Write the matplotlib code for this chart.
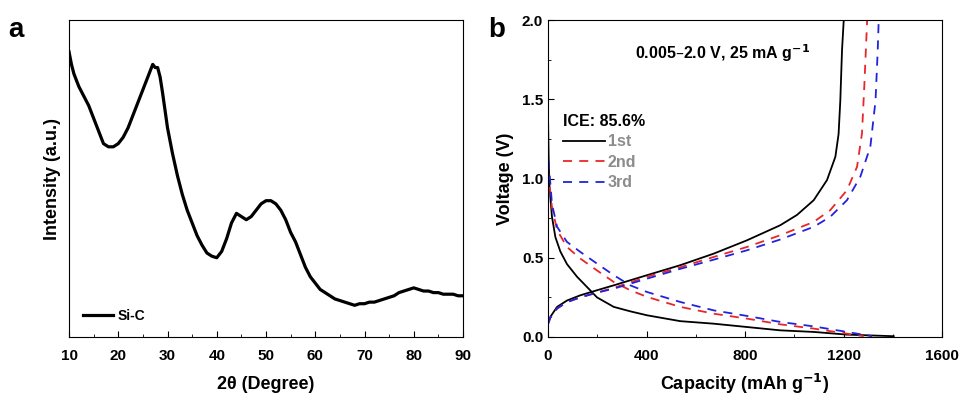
import matplotlib.pyplot as plt
import numpy as np
from matplotlib.ticker import MultipleLocator

plt.rcParams['font.family'] = ['Liberation Sans', 'DejaVu Sans']
plt.rcParams['font.weight'] = 'bold'

# XRD pattern of Si-C (arbitrary units)
two_theta = [10, 10.5, 11, 12, 13, 14, 15, 16, 17, 18, 19, 20, 21, 22, 23, 24, 25, 26,
             26.5, 27, 27.5, 28, 28.5, 29, 30, 31, 32, 33, 34, 35, 36, 37, 38, 39, 40,
             41, 42, 43, 44, 45, 46, 47, 48, 49, 50, 51, 52, 53, 54, 55, 56, 57, 58,
             59, 60, 61, 62, 63, 64, 65, 66, 67, 68, 69, 70, 71, 72, 73, 74, 75, 76,
             77, 78, 79, 80, 81, 82, 83, 84, 85, 86, 87, 88, 89, 90]
intensity = [0.90, 0.86, 0.83, 0.79, 0.76, 0.73, 0.69, 0.65, 0.61, 0.60, 0.60, 0.61,
             0.63, 0.66, 0.70, 0.74, 0.78, 0.82, 0.84, 0.86, 0.85, 0.85, 0.82, 0.77,
             0.66, 0.58, 0.51, 0.45, 0.40, 0.36, 0.32, 0.29, 0.265, 0.255, 0.25, 0.27,
             0.31, 0.36, 0.39, 0.38, 0.37, 0.38, 0.40, 0.42, 0.43, 0.43, 0.42, 0.40,
             0.37, 0.33, 0.30, 0.26, 0.22, 0.19, 0.17, 0.15, 0.14, 0.13, 0.12, 0.115,
             0.11, 0.105, 0.10, 0.105, 0.105, 0.11, 0.11, 0.115, 0.12, 0.125, 0.13,
             0.14, 0.145, 0.15, 0.155, 0.15, 0.145, 0.145, 0.14, 0.14, 0.135, 0.135,
             0.135, 0.13, 0.13]

# Galvanostatic charge/discharge profiles
dis1_cap = [0, 3, 6, 16, 30, 50, 77, 118, 158, 199, 267, 334, 402, 537, 673, 808, 943, 1079, 1214, 1404]
dis1_v = [1.40, 1.10, 0.95, 0.76, 0.63, 0.54, 0.46, 0.38, 0.316, 0.25, 0.19, 0.162, 0.137,
          0.10, 0.084, 0.063, 0.042, 0.032, 0.015, 0.005]
chg1_cap = [0, 9, 37, 77, 131, 199, 267, 402, 537, 673, 808, 943, 1011, 1079, 1133, 1167,
            1180, 1187, 1194, 1201]
chg1_v = [0.09, 0.126, 0.19, 0.23, 0.263, 0.295, 0.326, 0.39, 0.453, 0.526, 0.61, 0.705,
          0.77, 0.863, 0.99, 1.137, 1.28, 1.49, 1.81, 2.0]

dis2_cap = [0, 3, 16, 37, 77, 131, 199, 267, 334, 402, 537, 673, 808, 943, 1079, 1214, 1282]
dis2_v = [1.05, 1.0, 0.82, 0.674, 0.568, 0.495, 0.42, 0.347, 0.295, 0.253, 0.19, 0.147,
          0.116, 0.08, 0.053, 0.021, 0.005]
chg2_cap = [0, 9, 37, 77, 131, 199, 267, 402, 537, 673, 808, 943, 1079, 1146, 1214, 1255,
            1275, 1285, 1296]
chg2_v = [0.08, 0.12, 0.18, 0.22, 0.25, 0.28, 0.31, 0.38, 0.44, 0.505, 0.568, 0.642, 0.726,
          0.80, 0.926, 1.074, 1.284, 1.6, 2.0]

dis3_cap = [0, 3, 16, 37, 77, 131, 199, 267, 334, 402, 537, 673, 808, 943, 1079, 1214, 1316]
dis3_v = [1.12, 1.1, 0.84, 0.695, 0.60, 0.537, 0.463, 0.39, 0.326, 0.284, 0.221, 0.168,
          0.133, 0.095, 0.067, 0.032, 0.005]
chg3_cap = [0, 9, 37, 77, 131, 199, 267, 402, 537, 673, 808, 943, 1079, 1146, 1214, 1268,
            1309, 1330, 1339, 1343]
chg3_v = [0.08, 0.12, 0.18, 0.22, 0.25, 0.28, 0.305, 0.368, 0.43, 0.488, 0.547, 0.615,
          0.695, 0.758, 0.863, 1.01, 1.2, 1.49, 1.81, 2.0]

fig = plt.figure(figsize=(9.6, 4.0), dpi=100)
ax1 = fig.add_axes([69 / 960, 63 / 400, 394 / 960, 317 / 400])
ax2 = fig.add_axes([548 / 960, 63 / 400, 394 / 960, 317 / 400])

# panel a
ax1.plot(two_theta, intensity, color='black', lw=2.3, label='Si-C')
ax1.set_xlim(10, 90)
ax1.set_ylim(0, 1)
ax1.set_yticks([])
ax1.xaxis.set_major_locator(MultipleLocator(10))
ax1.xaxis.set_minor_locator(MultipleLocator(5))
ax1.tick_params(axis='x', which='both', direction='in', labelsize=11, pad=9)
ax1.tick_params(axis='x', which='major', length=4)
ax1.tick_params(axis='x', which='minor', length=2)
ax1.set_xlabel('2θ (Degree)', fontsize=13, fontweight='bold', labelpad=9)
ax1.set_ylabel('Intensity (a.u.)', fontsize=13, fontweight='bold', labelpad=6)
ax1.legend(loc='lower left', frameon=False, fontsize=10, handlelength=2.2,
           borderaxespad=0.6, handletextpad=0.3)
fig.text(8 / 960, 1 - 30 / 400, 'a', fontsize=20, fontweight='bold', va='center')

# panel b
ax2.plot(dis1_cap, dis1_v, color='black', lw=1.3, label='1st')
ax2.plot(chg1_cap, chg1_v, color='black', lw=1.3)
ax2.plot(dis2_cap, dis2_v, color='#e8262a', lw=1.3, ls=(0, (5, 4)), label='2nd')
ax2.plot(chg2_cap, chg2_v, color='#e8262a', lw=1.3, ls=(0, (5, 4)))
ax2.plot(dis3_cap, dis3_v, color='#2222dd', lw=1.3, ls=(0, (5, 4)), label='3rd')
ax2.plot(chg3_cap, chg3_v, color='#2222dd', lw=1.3, ls=(0, (5, 4)))
ax2.set_xlim(0, 1600)
ax2.set_ylim(0, 2.0)
ax2.xaxis.set_major_locator(MultipleLocator(400))
ax2.xaxis.set_minor_locator(MultipleLocator(200))
ax2.yaxis.set_major_locator(MultipleLocator(0.5))
ax2.yaxis.set_minor_locator(MultipleLocator(0.25))
ax2.tick_params(which='both', direction='in', labelsize=11)
ax2.tick_params(axis='x', which='both', pad=9)
ax2.tick_params(which='major', length=4)
ax2.tick_params(which='minor', length=2)
ax2.set_xlabel('Capacity (mAh g$^{\\mathbf{-1}}$)', fontsize=13, fontweight='bold', labelpad=6)
ax2.set_ylabel('Voltage (V)', fontsize=13, fontweight='bold', labelpad=6)
ax2.text(0.444, 0.896, '0.005–2.0 V, 25 mA g$^{\\mathbf{-1}}$', transform=ax2.transAxes,
         ha='center', va='center', fontsize=11.5, fontweight='bold')
leg = ax2.legend(loc='upper left', bbox_to_anchor=(0.01, 0.74), frameon=False, fontsize=11.5,
                 title='ICE: 85.6%', title_fontsize=11.5, handlelength=2.6,
                 handletextpad=0.2, labelspacing=0.35, borderpad=0.2)
leg.get_title().set_fontweight('bold')
leg._legend_box.align = 'left'
for t in leg.get_texts():
    t.set_color('#8c8c8c')
fig.text(488 / 960, 1 - 30 / 400, 'b', fontsize=20, fontweight='bold', va='center')

fig.savefig('out.png', dpi=100)
